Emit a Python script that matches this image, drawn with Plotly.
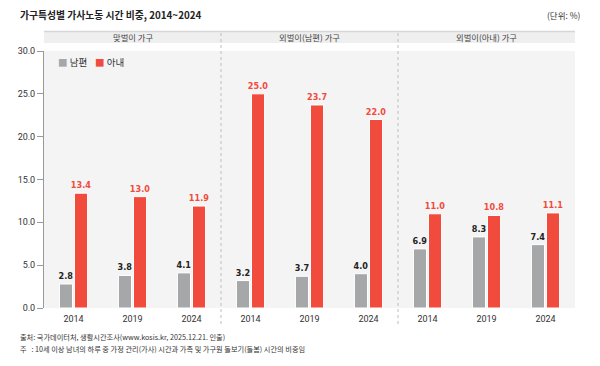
import plotly.graph_objects as go

groups = ["맞벌이 가구", "외벌이(남편) 가구", "외벌이(아내) 가구"]
years = ["2014", "2019", "2024"]
husband = [2.8, 3.8, 4.1, 3.2, 3.7, 4.0, 6.9, 8.3, 7.4]
wife = [13.4, 13.0, 11.9, 25.0, 23.7, 22.0, 11.0, 10.8, 11.1]
series_names = ["남편", "아내"]
y_ticks = [0, 5, 10, 15, 20, 25, 30]

xpos = list(range(len(husband)))
ticktext = years * len(groups)

KFONT = "Noto Sans CJK KR"
NUMFONT = "DejaVu Sans Condensed, Liberation Sans Narrow, Roboto"
GRAY = "#a6a7a9"
RED = "#f04b3c"

fig = go.Figure()
fig.add_bar(x=xpos, y=husband, name=series_names[0], marker=dict(color=GRAY, line=dict(color="white", width=1)),
            texttemplate="<b>%{y:.1f}</b>", textposition="outside", cliponaxis=False, constraintext="none",
            textangle=0, textfont=dict(family=NUMFONT, size=9, color="#222222"))
fig.add_bar(x=xpos, y=wife, name=series_names[1], marker=dict(color=RED, line=dict(color="white", width=1)),
            texttemplate="<b>%{y:.1f}</b>", textposition="outside", cliponaxis=False, constraintext="none",
            textangle=0, textfont=dict(family=NUMFONT, size=9, color=RED))

# plot area: x 44..575, y 51..308
W = 575 - 44
H = 308 - 51
def py(p):
    return (308 - p) / H
def px(p):
    return (p - 44) / W

shapes = []
n = len(groups)
for i, g in enumerate(groups):
    x0 = i / n
    x1 = (i + 1) / n
    shapes.append(dict(type="rect", xref="paper", yref="paper", x0=x0, x1=x1, y0=py(43), y1=py(32),
                       fillcolor="#efefef", line=dict(width=0), layer="below"))
    shapes.append(dict(type="line", xref="paper", yref="paper", x0=x0, x1=x1, y0=py(31.5), y1=py(31.5),
                       line=dict(color="#d6d6d6", width=1.5)))
for sep in [2.5, 5.5]:
    shapes.append(dict(type="line", xref="x", yref="paper", x0=sep, x1=sep, y0=py(324), y1=py(31),
                       line=dict(color="#bdbdbd", width=1, dash="dot")))

annotations = []
for i, g in enumerate(groups):
    annotations.append(dict(text=g, xref="paper", yref="paper", x=(i + 0.5) / n, y=py(37.5),
                            showarrow=False, font=dict(family=KFONT, size=8.3, color="#444444"),
                            xanchor="center", yanchor="middle"))
# legend drawn as text
legend_colors = [GRAY, RED]
legend_x = [56, 93]
for name, col, lx in zip(series_names, legend_colors, legend_x):
    annotations.append(dict(text=f"<span style='color:{col}'>■</span> {name}", xref="paper", yref="paper",
                            x=px(lx), y=py(62), xanchor="left", yanchor="middle", showarrow=False,
                            font=dict(family=KFONT, size=9.5, color="#333333")))
annotations += [
    dict(text="<b>가구특성별 가사노동 시간 비중, 2014~2024</b>", xref="paper", yref="paper",
         x=px(18), y=py(15), xanchor="left", yanchor="middle", showarrow=False,
         font=dict(family=KFONT, size=9.8, color="#222222")),
    dict(text="(단위: %)", xref="paper", yref="paper", x=px(583), y=py(15),
         xanchor="right", yanchor="middle", showarrow=False,
         font=dict(family=KFONT, size=8.5, color="#333333")),
    dict(text="출처: 국가데이터처, 생활시간조사(www.kosis.kr, 2025.12.21. 인출)", xref="paper", yref="paper",
         x=px(18), y=py(337), xanchor="left", yanchor="middle", showarrow=False,
         font=dict(family=KFONT, size=7.2, color="#333333")),
    dict(text="주   : 10세 이상 남녀의 하루 중 가정 관리(가사) 시간과 가족 및 가구원 돌보기(돌봄) 시간의 비중임",
         xref="paper", yref="paper", x=px(18), y=py(349), xanchor="left", yanchor="middle",
         showarrow=False, font=dict(family=KFONT, size=7.2, color="#333333")),
]

fig.update_layout(
    width=600, height=366,
    margin=dict(l=44, r=25, t=51, b=58),
    paper_bgcolor="white", plot_bgcolor="#f4f4f4",
    barmode="group", bargap=0.49, bargroupgap=0.13,
    font=dict(family=KFONT, size=10, color="#333333"),
    showlegend=False,
    shapes=shapes, annotations=annotations,
    xaxis=dict(range=[-0.5, len(xpos) - 0.5], tickvals=xpos, ticktext=ticktext, showgrid=False,
               zeroline=False, showline=False, ticks="", ticklabelstandoff=4,
               tickfont=dict(family="Roboto", size=9, color="#333333")),
    yaxis=dict(range=[0, 30], tickvals=y_ticks, tickformat=".1f", showgrid=False, zeroline=False,
               showline=True, linecolor="#999999", linewidth=1, ticks="outside", ticklen=6,
               tickcolor="#999999", tickfont=dict(family="Roboto", size=9, color="#333333")),
)

fig.write_html("out.html", config={"displayModeBar": False},
               post_script="document.body.style.margin='0';document.body.style.padding='0';")
